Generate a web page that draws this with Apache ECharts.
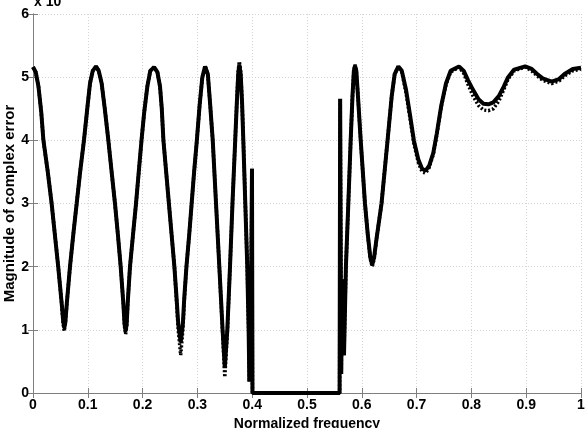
<!DOCTYPE html>
<html>
<head>
<meta charset="utf-8">
<script src="https://cdn.jsdelivr.net/npm/echarts@6/dist/echarts.min.js"></script>
<style>
  html, body { margin: 0; padding: 0; background: #fff; }
  #main { width: 588px; height: 428px; }
</style>
</head>
<body>
<div id="main"></div>
<script>
// normalized frequency samples
const freq = [
  0, 0.005, 0.01, 0.015, 0.019, 0.027, 0.034, 0.04, 0.046, 0.052, 0.055, 0.057, 0.059, 0.062, 0.0675, 0.074, 0.0797, 0.086, 0.093, 0.099, 0.104, 0.109,
  0.115, 0.12, 0.1253, 0.131, 0.1375, 0.1435, 0.1496, 0.155, 0.16, 0.165, 0.167, 0.169, 0.171, 0.173, 0.177, 0.183, 0.188, 0.193, 0.198, 0.203, 0.2086, 0.214,
  0.221, 0.227, 0.2318, 0.235, 0.238, 0.243, 0.248, 0.253, 0.258, 0.262, 0.265, 0.2695, 0.2735, 0.276, 0.28, 0.285, 0.2895, 0.294, 0.299, 0.304, 0.309,
  0.314, 0.319, 0.323, 0.328, 0.334, 0.34, 0.346, 0.35, 0.3546, 0.3595, 0.364, 0.369, 0.372, 0.3745, 0.3765, 0.379, 0.3815, 0.3838, 0.3874, 0.391, 0.3935,
  0.3948, 0.396, 0.397, 0.398, 0.3996, 0.4005, 0.5595, 0.5605, 0.5625, 0.564, 0.5675, 0.571, 0.5754, 0.5797, 0.583, 0.5855, 0.5876, 0.59, 0.593, 0.598,
  0.6058, 0.611, 0.6155, 0.619, 0.6225, 0.627, 0.636, 0.647, 0.6546, 0.66, 0.6667, 0.673, 0.6807, 0.688, 0.695, 0.703, 0.71, 0.7165, 0.723, 0.7305, 0.7367,
  0.745, 0.7536, 0.762, 0.7774, 0.786, 0.794, 0.803, 0.813, 0.822, 0.831, 0.84, 0.85, 0.859, 0.867, 0.878, 0.898, 0.91, 0.92, 0.93, 0.9465, 0.96, 0.97,
  0.985, 1
]

// solid curve
const magSolid = [
  5.16, 5.08, 4.85, 4.45, 4.0, 3.5, 3.0, 2.5, 2.0, 1.45, 1.15, 1.03, 1.12, 1.45, 2.0, 2.55, 3.0, 3.5, 4.0, 4.5, 4.9, 5.1,
  5.17, 5.1, 4.9, 4.5, 4.0, 3.5, 3.0, 2.5, 2.0, 1.4, 1.1, 0.98, 1.1, 1.45, 2.0, 2.55, 3.0, 3.5, 4.0, 4.45, 4.85, 5.1,
  5.16, 5.08, 4.85, 4.5, 4.0, 3.5, 3.0, 2.5, 2.0, 1.5, 1.1, 0.8, 1.1, 1.5, 2.0, 2.5, 3.0, 3.5, 4.0, 4.55, 5.0,
  5.17, 5.05, 4.6, 4.0, 3.0, 2.0, 1.0, 0.4, 1.0, 2.0, 3.0, 4.0, 4.6, 5.05, 5.2, 5.05, 4.6, 4.0, 3.0, 2.0, 1.0,
  0.18, 1.8, 0.3, 1.6, 3.55, 0, 0, 4.66, 0.3, 1.8, 0.6, 2.0, 3.0, 4.0, 4.7, 5.1, 5.18, 5.1, 4.7, 4.0,
  3.0, 2.5, 2.15, 2.03, 2.15, 2.45, 3.0, 4.0, 4.7, 5.05, 5.17, 5.1, 4.8, 4.4, 4.0, 3.7, 3.55, 3.52, 3.6, 3.8, 4.1,
  4.55, 4.9, 5.1, 5.17, 5.1, 4.95, 4.8, 4.65, 4.58, 4.57, 4.6, 4.7, 4.85, 5.0, 5.12, 5.17, 5.13, 5.05, 4.98, 4.93, 4.97, 5.05,
  5.13, 5.15
]

// dotted curve (mostly hidden under the solid one)
const magDotted = [
  5.16, 5.08, 4.85, 4.45, 4.0, 3.5, 3.0, 2.5, 2.0, 1.45, 1.1, 0.98, 1.1, 1.45, 2.0, 2.55, 3.0, 3.5, 4.0, 4.5, 4.9, 5.1,
  5.17, 5.1, 4.9, 4.5, 4.0, 3.5, 3.0, 2.5, 2.0, 1.4, 1.05, 0.93, 1.05, 1.45, 2.0, 2.55, 3.0, 3.5, 4.0, 4.45, 4.85, 5.1,
  5.16, 5.08, 4.85, 4.5, 4.0, 3.5, 3.0, 2.5, 2.0, 1.45, 1.0, 0.6, 1.0, 1.45, 2.0, 2.5, 3.0, 3.5, 4.0, 4.55, 5.0,
  5.18, 5.05, 4.6, 4.0, 3.0, 2.0, 0.95, 0.25, 0.95, 2.0, 3.0, 4.0, 4.62, 5.1, 5.25, 5.08, 4.6, 4.0, 3.0, 2.0, 1.0,
  0.18, 1.8, 0.3, 1.6, 3.55, 0, 0, 4.66, 0.3, 1.8, 0.6, 2.0, 3.0, 4.0, 4.7, 5.1, 5.2, 5.1, 4.7, 4.0,
  3.0, 2.5, 2.12, 2.0, 2.12, 2.45, 3.0, 4.0, 4.7, 5.05, 5.17, 5.08, 4.75, 4.35, 3.95, 3.65, 3.5, 3.48, 3.57, 3.78, 4.08,
  4.53, 4.88, 5.08, 5.16, 5.06, 4.88, 4.7, 4.55, 4.48, 4.47, 4.5, 4.62, 4.8, 4.97, 5.1, 5.16, 5.1, 5.02, 4.95, 4.9, 4.94, 5.02,
  5.1, 5.13
]

const xTicks = [0, 0.1, 0.2, 0.3, 0.4, 0.5, 0.6, 0.7, 0.8, 0.9, 1]
const yTicks = [0, 1, 2, 3, 4, 5, 6]

const solidData = freq.map((f, i) => [f, magSolid[i]])
const dottedData = freq.map((f, i) => [f, magDotted[i]])

const FONT = 'Liberation Sans, Arial, sans-serif'
const labelFont = { color: '#000', fontFamily: FONT, fontWeight: 'bold', fontSize: 14 }
const boxLine = { show: true, lineStyle: { color: '#7f7f7f', width: 1 } }
const gridLine = { show: true, lineStyle: { color: '#d4d4d4', type: [1, 2], width: 1 } }
const inTick = { show: true, inside: true, length: 5, lineStyle: { color: '#7f7f7f' } }

const myChart = echarts.init(document.getElementById('main'), null, { renderer: 'canvas' })

myChart.setOption({
  animation: false,
  backgroundColor: '#fff',
  grid: { left: 33, right: 7, top: 14, bottom: 35, containLabel: false, outerBoundsMode: 'none' },
  xAxis: [
    {
      type: 'value',
      min: xTicks[0],
      max: xTicks[xTicks.length - 1],
      interval: 0.1,
      name: 'Normalized frequency',
      nameLocation: 'middle',
      nameGap: 24,
      nameMoveOverlap: false,
      nameTextStyle: labelFont,
      axisLine: boxLine,
      axisTick: inTick,
      splitLine: gridLine,
      axisLabel: Object.assign({ margin: 5, formatter: v => String(+v.toFixed(1)) }, labelFont)
    },
    {
      type: 'value',
      position: 'top',
      min: 0, max: 1, interval: 0.1,
      axisLine: boxLine,
      axisTick: inTick,
      axisLabel: { show: false },
      splitLine: { show: false }
    }
  ],
  yAxis: [
    {
      type: 'value',
      min: yTicks[0],
      max: yTicks[yTicks.length - 1],
      interval: 1,
      name: 'Magnitude of complex error',
      nameLocation: 'middle',
      nameGap: 16,
      nameMoveOverlap: false,
      nameTextStyle: Object.assign({}, labelFont, { fontSize: 15 }),
      axisLine: boxLine,
      axisTick: inTick,
      splitLine: gridLine,
      axisLabel: Object.assign({ margin: 4 }, labelFont)
    },
    {
      type: 'value',
      position: 'right',
      min: 0, max: 6, interval: 1,
      axisLine: boxLine,
      axisTick: inTick,
      axisLabel: { show: false },
      splitLine: { show: false }
    }
  ],
  graphic: [
    {
      type: 'text',
      left: 34,
      top: -5,
      style: { text: 'x 10', fill: '#000', font: 'bold 14px ' + FONT }
    }
  ],
  series: [
    {
      type: 'line',
      data: dottedData,
      showSymbol: false,
      lineStyle: { color: '#000', width: 3.5, type: [2, 2] },
      z: 2
    },
    {
      type: 'line',
      data: solidData,
      showSymbol: false,
      lineStyle: { color: '#000', width: 4 },
      z: 3
    }
  ]
})
</script>
</body>
</html>
